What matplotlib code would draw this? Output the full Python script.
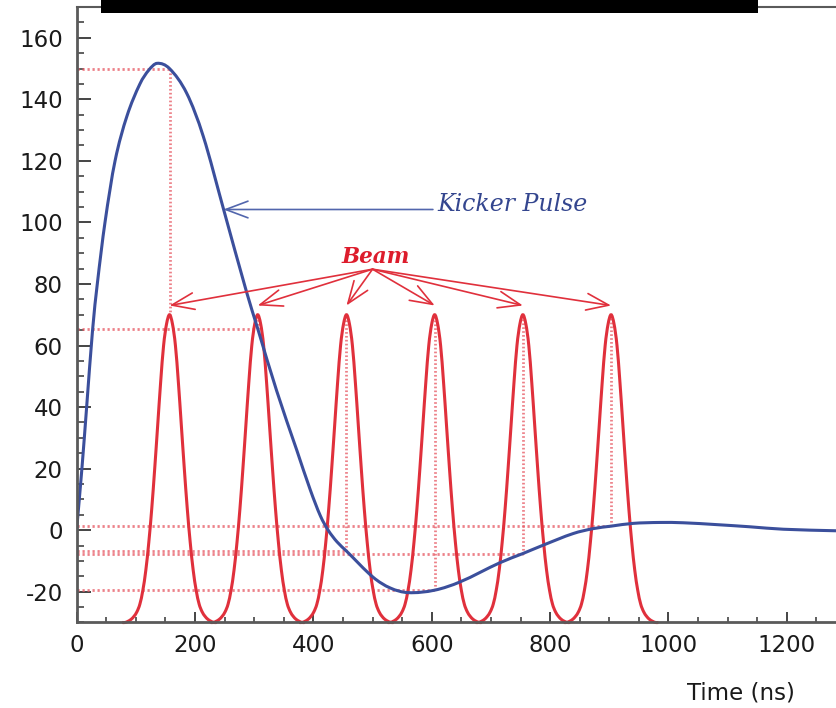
import matplotlib
matplotlib.use("Agg")
import matplotlib.pyplot as plt
from matplotlib.patches import Rectangle, ArrowStyle, PathPatch
from matplotlib.path import Path
from matplotlib.ticker import MultipleLocator

plt.rcParams["axes.unicode_minus"] = False

# Kicker pulse waveform (time in ns, amplitude)
kicker_t = [0, 9, 17, 27, 35, 48, 65, 85, 107, 122, 136, 157, 186, 214, 248,
            287, 306, 338, 372, 395, 412, 425, 440, 456, 501, 530, 560, 605,
            648, 715, 754, 788, 839, 873, 903, 940, 985, 1025, 1081, 1137,
            1194, 1283]
kicker_v = [0, 20, 40, 65, 80, 100, 120, 134.5, 145, 149.5, 151.7, 150, 142,
            128, 104.5, 77.5, 65.5, 45.3, 26, 13, 4.6, 0, -3.8, -6.8, -15.3,
            -18.8, -20.3, -19.5, -16.8, -10.6, -7.6, -4.9, -1.1, 0.5, 1.3, 2.2,
            2.5, 2.4, 1.8, 1.1, 0.3, -0.2]

# Beam bunches: centre times and kicker level seen by each bunch
bunch_t = [157, 306, 456, 605, 754, 903]
bunch_kick = [150, 65.5, -6.8, -19.5, -7.6, 1.3]

# Single-bunch profile, one side (offset from centre in ns -> level)
profile_off = [0, 5, 10, 15, 20, 25, 30, 35, 40, 45, 50, 55, 60, 65, 70, 75, 80]
profile_val = [70, 67, 60, 48, 34, 20, 7, -4, -13, -19.5, -24, -26.5, -28,
               -29, -29.6, -30, -30]

x_ticks = [0, 200, 400, 600, 800, 1000, 1200]
y_ticks = [-20, 0, 20, 40, 60, 80, 100, 120, 140, 160]

BLUE = "#3b4f9c"
RED = "#e0303c"
GUIDE = "#e8606a"
LABEL_FONT = "DejaVu Sans"


def smooth_curve(xs, ys):
    """Piecewise cubic (Hermite) path passing through every sample."""
    n = len(xs)
    slopes = []
    for i in range(n):
        if i == 0:
            s = (ys[1] - ys[0]) / (xs[1] - xs[0])
        elif i == n - 1:
            s = (ys[-1] - ys[-2]) / (xs[-1] - xs[-2])
        else:
            s = (ys[i + 1] - ys[i - 1]) / (xs[i + 1] - xs[i - 1])
        slopes.append(s)
    verts = [(xs[0], ys[0])]
    codes = [Path.MOVETO]
    for i in range(n - 1):
        h = xs[i + 1] - xs[i]
        verts += [(xs[i] + h / 3, ys[i] + slopes[i] * h / 3),
                  (xs[i + 1] - h / 3, ys[i + 1] - slopes[i + 1] * h / 3),
                  (xs[i + 1], ys[i + 1])]
        codes += [Path.CURVE4] * 3
    return Path(verts, codes)


fig = plt.figure(figsize=(8.36, 7.08), dpi=100)
ax = fig.add_axes([0.0916, 0.1208, 0.9084, 0.8693])
ax.set_xlim(0, 1283)
ax.set_ylim(-30, 170)

# dotted guides from each bunch to the kicker level
for t, k in zip(bunch_t, bunch_kick):
    ax.plot([0, t], [k, k], color=GUIDE, lw=2.0, ls=(0, (0.8, 1.0)), alpha=0.8,
            zorder=2)
    ax.plot([t, t], [k, profile_val[0]], color=GUIDE, lw=2.0, ls=(0, (0.6, 0.8)),
            alpha=0.8, zorder=2)

# beam bunches
full_off = [-o for o in profile_off[::-1]] + profile_off[1:]
full_val = profile_val[::-1] + profile_val[1:]
for t in bunch_t:
    ax.add_patch(PathPatch(smooth_curve([t + o for o in full_off], full_val),
                           facecolor="none", edgecolor=RED, lw=2.2, zorder=3,
                           clip_on=False))

# kicker waveform
ax.add_patch(PathPatch(smooth_curve(kicker_t, kicker_v), facecolor="none",
                       edgecolor=BLUE, lw=2.2, zorder=4))

# annotations
ax.annotate("", xy=(248, 104.2), xytext=(602, 104.2),
            arrowprops=dict(arrowstyle=ArrowStyle("->", head_length=1.6, head_width=0.6),
                            mutation_scale=10, color="#5266ad", lw=1.2,
                            shrinkA=0, shrinkB=0), zorder=5)
ax.text(610, 103.8, "Kicker Pulse", color="#34468f", fontsize=17,
        family="DejaVu Serif", style="italic", va="baseline", ha="left")

beam_origin = (500, 84.8)
for t in bunch_t:
    ax.annotate("", xy=(t, 73), xytext=beam_origin,
                arrowprops=dict(arrowstyle=ArrowStyle("->", head_length=1.6, head_width=0.6),
                                mutation_scale=10, color=RED, lw=1.2,
                                shrinkA=0, shrinkB=0), zorder=5)
ax.text(506, 86.8, "Beam", color="#dd1c2c", fontsize=15.5, family="DejaVu Serif",
        style="italic", weight="bold", va="baseline", ha="center")

# axes styling
for side in ("left", "bottom", "top"):
    ax.spines[side].set_color("#5a5a5a")
    ax.spines[side].set_zorder(6)
ax.spines["left"].set_linewidth(2.0)
ax.spines["bottom"].set_linewidth(2.0)
ax.spines["top"].set_linewidth(1.5)
ax.spines["right"].set_visible(False)

ax.set_xticks(x_ticks)
ax.set_yticks(y_ticks)
ax.xaxis.set_minor_locator(MultipleLocator(50))
ax.yaxis.set_minor_locator(MultipleLocator(5))
ax.tick_params(axis="y", which="major", direction="in", length=10, width=1.4,
               color="#444444", pad=10)
ax.tick_params(axis="y", which="minor", direction="in", length=5, width=1.2,
               color="#444444")
ax.tick_params(axis="x", which="major", direction="in", length=7.5, width=1.4,
               color="#444444", pad=8)
ax.tick_params(axis="x", which="minor", direction="in", length=3.8, width=1.2,
               color="#444444")
ax.tick_params(top=False, right=False, which="both")
for lab in ax.get_xticklabels() + ax.get_yticklabels():
    lab.set_family(LABEL_FONT)
    lab.set_fontsize(16.5)
    lab.set_color("#1a1a1a")

fig.text(795 / 836, (708 - 693) / 708, "Time (ns)", family=LABEL_FONT,
         fontsize=16.5, color="#1a1a1a", ha="right", va="center")

# title bar
fig.add_artist(Rectangle((101 / 836, (708 - 13) / 708), 657 / 836, 14 / 708,
                         transform=fig.transFigure, facecolor="black",
                         edgecolor="none", zorder=10))

fig.savefig("out.png", dpi=100)
